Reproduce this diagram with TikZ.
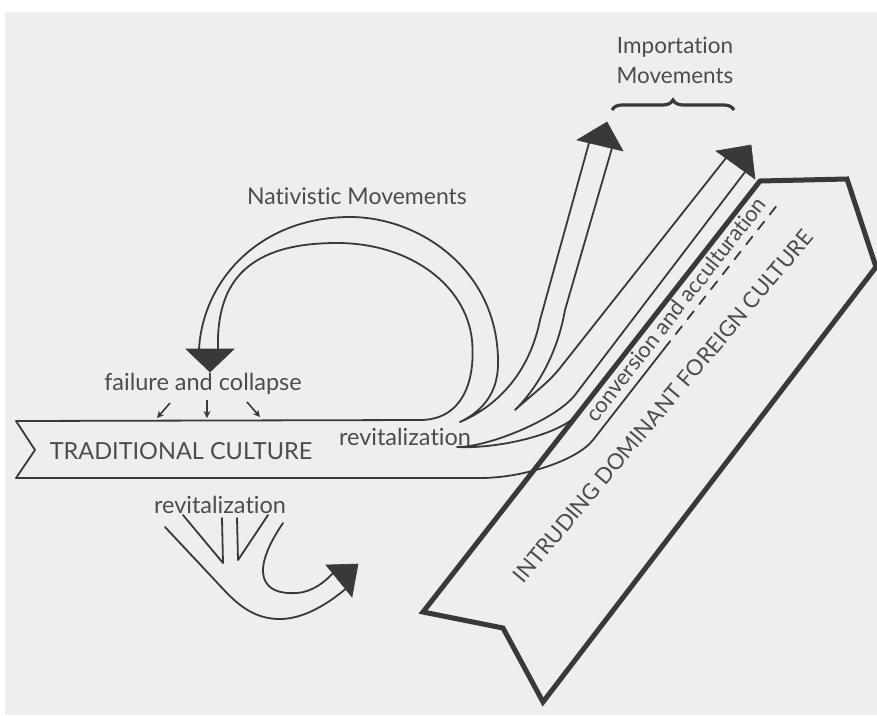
\documentclass[tikz,border=0pt]{standalone}
\usepackage{fontspec}
\setmainfont{Lato}[Ligatures={NoCommon}]
\usetikzlibrary{arrows.meta,decorations.pathreplacing}
\definecolor{ink}{RGB}{58,56,56}
\definecolor{txt}{RGB}{76,76,76}
\definecolor{paper}{RGB}{238,238,236}
\begin{document}
\begin{tikzpicture}[x=1pt,y=-1pt,
  ln/.style={draw=ink,line width=1.8pt,line join=round,line cap=round},
  bord/.style={draw=ink,line width=5pt,line join=miter},
  headfill/.style={fill=ink,draw=ink,line width=0.6pt,line join=miter},
  lbl/.style={text=txt,inner sep=0pt,font=\fontsize{23.5}{27}\selectfont},
  smallarr/.style={draw=ink,line width=1.6pt,-{Stealth[length=7pt,width=7pt]}}]
\fill[white] (0,0) rectangle (877,715);
\fill[paper] (5,12) rectangle (877,715);
\useasboundingbox (0,0) rectangle (877,715);

% intruding dominant foreign culture ribbon
\coordinate (i1) at (760,181);
\coordinate (i2) at (847,179);
\coordinate (i3) at (876,267);
\coordinate (i4) at (543,702);
\coordinate (i5) at (503,628);
\coordinate (i6) at (423,612);
\draw[bord] (i6) -- (i1) -- (i2) -- (i3) -- (i4) -- (i5) -- cycle;

% traditional culture band + inner nativistic arc + conversion underline
\coordinate (nin) at (218,349);
\coordinate (ul1) at (593,440);
\coordinate (ul2) at (664,349);
\coordinate (ul3) at (778,204);
\draw[ln] (nin) .. controls (216,280) and (250,243) .. (337,243)
  .. controls (410,243) and (466,285) .. (472,340)
  .. controls (476,385) and (460,420) .. (420,420)
  -- (16,421) -- (35,450) -- (16,478) -- (480,478)
  .. controls (525,478) and (577.6,459.7) .. (ul1) -- (ul2);
\draw[ln,dash pattern=on 10pt off 9pt] (ul2) -- (ul3);

% outer nativistic arc and left edge of importation arrow 1
\coordinate (nout) at (199,349);
\coordinate (c1) at (460,422);
\coordinate (a1l) at (589,143);
\draw[ln] (nout) .. controls (203,280) and (260,217) .. (350,217)
  .. controls (420,217) and (497,270) .. (498,360)
  .. controls (499,390) and (485,410) .. (c1)
  .. controls (500,405) and (530,370) .. (540,320) -- (a1l);

% right edge of arrow 1 and left edge of arrow 2
\coordinate (a1r) at (612,148);
\coordinate (c2) at (515,410);
\coordinate (a2l) at (726,158);
\draw[ln] (a1r) -- (565,310) .. controls (558,350) and (540,385) .. (c2)
  .. controls (535,392) and (548,383) .. (560,368) -- (a2l);

% right edge of arrow 2 and upper edge of conversion strand
\coordinate (a2r) at (745,172);
\coordinate (c3) at (457,447);
\coordinate (cm) at (580,412);
\draw[ln] (a2r) -- (575,395) .. controls (556.6,418.7) and (490,447) .. (c3)
  .. controls (495,449) and (561.5,435.6) .. (cm);

% arrowheads
\filldraw[headfill] (186,349) -- (234,349) -- (210,372) -- cycle;
\filldraw[headfill] (577,140) -- (623,151) -- (607,122) -- cycle;
\filldraw[headfill] (716,151) -- (755,179) -- (751,145) -- cycle;
\filldraw[headfill] (326,565) -- (352,597) -- (358,564) -- cycle;

% lower revitalization arrow
\draw[ln] (165,527) -- (225,591) .. controls (242,609) and (258,619) .. (280,619)
  .. controls (305,619) and (330,602) .. (345.5,589);
\draw[ln] (283,523) .. controls (268,545) and (260,565) .. (264,578)
  .. controls (268,590) and (280,594) .. (297,593)
  .. controls (312,592) and (325,582) .. (333,573);
\draw[ln] (183,515) -- (223,563) -- (222,518);
\draw[ln] (237,518) -- (238,560) -- (268,515);

% failure and collapse small arrows
\coordinate (f1a) at (170,403); \coordinate (f1b) at (157,418);
\coordinate (f2a) at (207,400); \coordinate (f2b) at (207,418);
\coordinate (f3a) at (247,402); \coordinate (f3b) at (260,417);
\draw[smallarr] (f1a) -- (f1b);
\draw[smallarr] (f2a) -- (f2b);
\draw[smallarr] (f3a) -- (f3b);

% importation brace
\draw[ink,line width=3.2pt,decorate,decoration={brace,amplitude=10pt}] (612,110) -- (734,110);

% labels
\node[lbl,font=\fontsize{23}{27}\selectfont] (nat) at (357,196) {Nativistic Movements};
\node[lbl] (fail) at (203,384) {failure and collapse};
\node[lbl] (trad) at (181,451) {TRADITIONAL CULTURE};
\node[lbl] (rev1) at (405,437) {revitalization};
\node[lbl] (rev2) at (220,505) {revitalization};
\node[lbl,align=center,font=\fontsize{22.5}{30}\selectfont] (imp) at (675,60) {Importation\\Movements};
\node[lbl,rotate=52,anchor=base,font=\fontsize{22}{26}\selectfont] (conv) at (682,314) {conversion and acculturation};
\node[lbl,rotate=50,font=\fontsize{22}{26}\selectfont] (intr) at (663,406) {INTRUDING DOMINANT FOREIGN CULTURE};
\end{tikzpicture}
\end{document}
